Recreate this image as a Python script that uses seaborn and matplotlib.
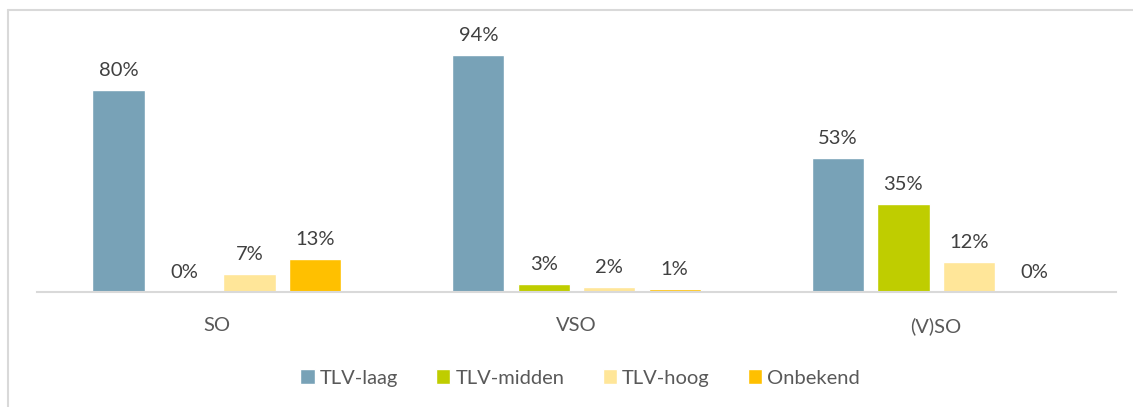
import pandas as pd
import matplotlib.pyplot as plt
from matplotlib.lines import Line2D
import seaborn as sns

# data
groups = ['SO', 'VSO', '(V)SO']
series = ['TLV-laag', 'TLV-midden', 'TLV-hoog', 'Onbekend']
tlv_laag = [80, 94, 53]
tlv_midden = [0, 3, 35]
tlv_hoog = [7, 2, 12]
onbekend = [13, 1, 0]
colors = ['#78A2B7', '#BFCD00', '#FFE699', '#FFC000']

rows = []
for name, vals in zip(series, [tlv_laag, tlv_midden, tlv_hoog, onbekend]):
    for g, v in zip(groups, vals):
        rows.append({'groep': g, 'niveau': name, 'pct': v})
df = pd.DataFrame(rows)

sns.set_style('white')
plt.rcParams['font.family'] = ['Lato', 'DejaVu Sans']

fig = plt.figure(figsize=(11.33, 4.07), dpi=100)
W, H = 1133, 407
ax = fig.add_axes([37 / W, 1 - 292 / H, (1116 - 37) / W, (292 - 39.5) / H])

sns.barplot(data=df, x='groep', y='pct', hue='niveau', hue_order=series,
            order=groups, palette=colors, width=0.728, gap=0.2,
            saturation=1, ax=ax, legend=True)

for cont in ax.containers:
    ax.bar_label(cont, labels=[f'{b.get_height():.0f}%' for b in cont],
                 padding=8, fontsize=14.5, color='#404040')

ax.set_ylim(0, 100)
ax.set_xlim(-0.5, 2.5)
ax.set_xlabel('')
ax.set_ylabel('')
ax.set_yticks([])
ax.tick_params(axis='x', length=0, pad=18, labelsize=14.5, labelcolor='#595959')
for s in ['top', 'right', 'left']:
    ax.spines[s].set_visible(False)
ax.spines['bottom'].set_color('#D9D9D9')
ax.spines['bottom'].set_linewidth(1.5)

handles, labels = ax.get_legend_handles_labels()
ax.legend(handles, labels, loc='center', bbox_to_anchor=(580 / W, 1 - 378 / H),
          bbox_transform=fig.transFigure, ncol=4, frameon=False,
          handlelength=0.7, handleheight=0.7, handletextpad=0.25,
          columnspacing=1.9, fontsize=14.5, labelcolor='#595959')

# chart frame (partly cut off in the reference)
fig.add_artist(Line2D([8 / W, 1.0], [1 - 10 / H, 1 - 10 / H],
                      transform=fig.transFigure, color='#D9D9D9', lw=1.5))
fig.add_artist(Line2D([8 / W, 8 / W], [0, 1 - 10 / H],
                      transform=fig.transFigure, color='#D9D9D9', lw=1.5))

fig.savefig('out.png', dpi=100)
